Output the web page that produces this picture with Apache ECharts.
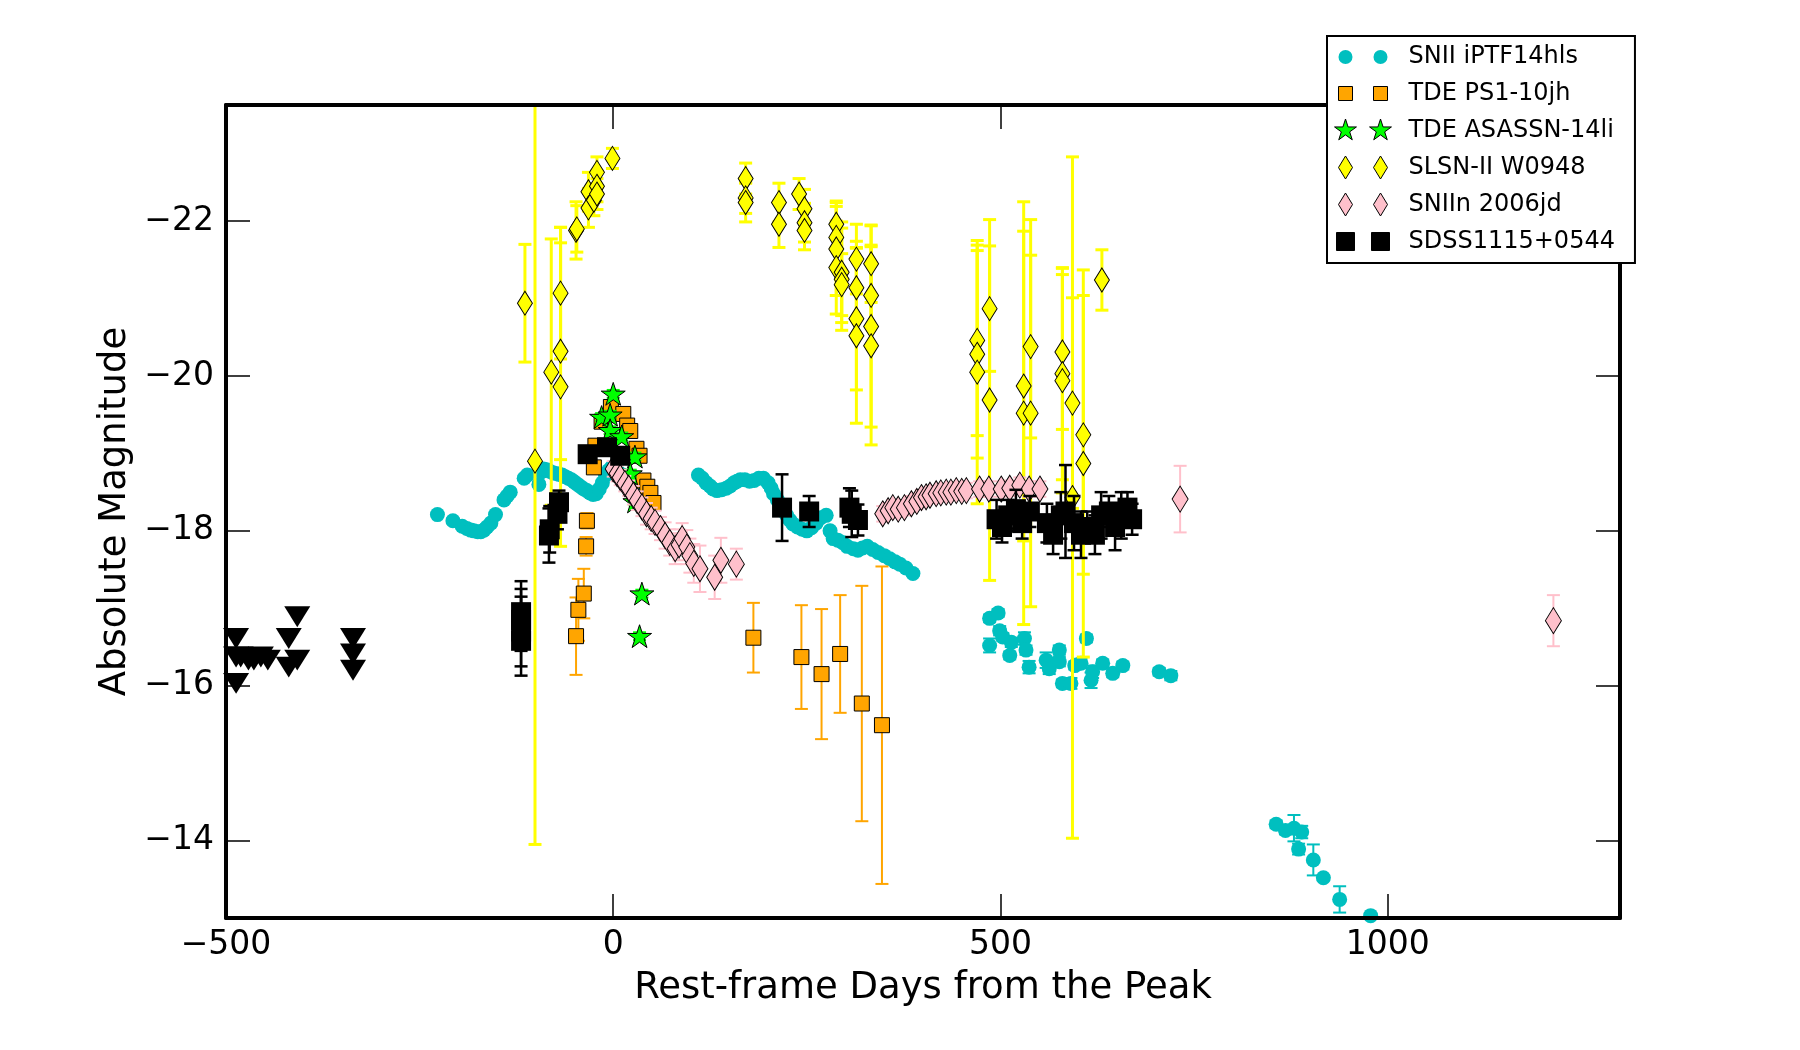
<!DOCTYPE html>
<html>
<head>
<meta charset="utf-8">
<title>Light curves</title>
<script src="https://cdn.jsdelivr.net/npm/echarts/dist/echarts.min.js"></script>
<style>
  html, body { margin: 0; padding: 0; background: #fff; }
  #chart { width: 1800px; height: 1050px; }
</style>
</head>
<body>
<div id="chart"></div>
<script>
// [rest-frame day, absolute magnitude, error]
const sniiPoints = [
  [-227, -18.21, 0.03], [-207, -18.13, 0.03], [-195, -18.06, 0.03], [-189, -18.03, 0.03],
  [-184, -18.01, 0.03], [-180, -18.00, 0.03], [-175, -17.99, 0.03], [-171, -17.99, 0.03],
  [-167, -18.01, 0.03], [-163, -18.05, 0.03], [-158, -18.10, 0.03], [-152, -18.21, 0.03],
  [-141, -18.40, 0.03], [-137, -18.45, 0.03], [-133, -18.50, 0.03], [-115, -18.68, 0.03],
  [-111, -18.72, 0.03], [-96, -18.60, 0.03], [-93, -18.76, 0.03], [-90, -18.80, 0.03],
  [-86, -18.79, 0.03], [-82, -18.77, 0.03], [-78, -18.75, 0.03], [-74, -18.74, 0.03],
  [-70, -18.73, 0.03], [-66, -18.72, 0.03], [-62, -18.70, 0.03], [-58, -18.68, 0.03],
  [-54, -18.66, 0.03], [-50, -18.63, 0.03], [-46, -18.60, 0.03], [-42, -18.57, 0.03],
  [-38, -18.54, 0.03], [-34, -18.52, 0.03], [-30, -18.49, 0.03], [-26, -18.47, 0.03],
  [-22, -18.48, 0.03], [-18, -18.54, 0.03], [-14, -18.62, 0.03], [-10, -18.72, 0.03],
  [-6, -18.78, 0.03], [-2, -18.82, 0.03], [5, -18.78, 0.03], [12, -18.72, 0.03],
  [18, -18.66, 0.03], [24, -18.62, 0.03], [30, -18.58, 0.03],
  [110, -18.72, 0.03], [115, -18.68, 0.03], [120, -18.62, 0.03], [125, -18.58, 0.03],
  [129, -18.54, 0.03], [134, -18.52, 0.03], [140, -18.53, 0.03], [146, -18.55, 0.03],
  [151, -18.58, 0.03], [156, -18.62, 0.03], [160, -18.64, 0.03], [164, -18.66, 0.03],
  [170, -18.66, 0.03], [176, -18.64, 0.03], [182, -18.65, 0.03], [188, -18.68, 0.03],
  [194, -18.68, 0.03], [200, -18.62, 0.03], [204, -18.55, 0.03], [207, -18.48, 0.03],
  [212, -18.40, 0.03], [218, -18.30, 0.03], [224, -18.20, 0.03], [228, -18.14, 0.03],
  [232, -18.09, 0.03], [238, -18.05, 0.03], [244, -18.02, 0.03], [250, -18.00, 0.03],
  [256, -18.04, 0.03], [262, -18.10, 0.03], [268, -18.17, 0.03], [275, -18.20, 0.03],
  [280, -18.00, 0.03], [284, -17.90, 0.03], [290, -17.88, 0.03], [296, -17.85, 0.03],
  [302, -17.80, 0.03], [310, -17.77, 0.03], [316, -17.75, 0.03], [322, -17.78, 0.03],
  [328, -17.80, 0.03], [335, -17.76, 0.03], [342, -17.72, 0.03], [350, -17.68, 0.03],
  [357, -17.64, 0.03], [364, -17.60, 0.03], [370, -17.57, 0.03], [378, -17.52, 0.03],
  [387, -17.45, 0.03],
  [486, -16.87, 0.05], [497, -16.94, 0.05], [499, -16.71, 0.06], [486, -16.52, 0.09],
  [503, -16.63, 0.05], [514, -16.56, 0.06], [531, -16.61, 0.08], [512, -16.39, 0.05],
  [533, -16.46, 0.06], [537, -16.24, 0.08], [559, -16.33, 0.10], [563, -16.22, 0.07],
  [576, -16.46, 0.06], [576, -16.31, 0.06], [580, -16.03, 0.05], [591, -16.03, 0.07],
  [596, -16.26, 0.05], [604, -16.29, 0.06], [611, -16.61, 0.05], [617, -16.07, 0.10],
  [619, -16.18, 0.08], [632, -16.29, 0.05], [645, -16.16, 0.05], [658, -16.26, 0.05],
  [705, -16.18, 0.05], [720, -16.13, 0.06],
  [856, -14.21, 0.05], [868, -14.13, 0.05], [879, -14.16, 0.17], [889, -14.11, 0.08],
  [885, -13.89, 0.07], [904, -13.75, 0.20], [917, -13.52, 0.03], [938, -13.24, 0.17],
  [978, -13.03, 0.02]
];

const ps1Points = [
  [-48, -16.64, 0.50], [-45, -16.98, 0.40], [-38, -17.19, 0.32], [-35, -17.80, 0.12],
  [-34, -18.13, 0.10], [-25, -18.82, 0.05], [-23, -19.10, 0.05], [-15, -19.41, 0.05],
  [-3, -19.60, 0.05], [13, -19.51, 0.05], [18, -19.36, 0.05], [22, -19.29, 0.05],
  [30, -19.06, 0.05], [34, -18.97, 0.05], [39, -18.65, 0.05], [44, -18.57, 0.05],
  [48, -18.49, 0.05], [52, -18.36, 0.05],
  [181, -16.62, 0.45], [243, -16.37, 0.67], [269, -16.15, 0.84], [293, -16.41, 0.76],
  [321, -15.77, 1.52], [347, -15.49, 2.05]
];

const asassnPoints = [
  [-15, -19.47, 0.05], [-4, -19.50, 0.05], [0, -19.77, 0.05], [-4, -19.30, 0.05],
  [11, -19.22, 0.05], [28, -18.96, 0.05], [22, -18.74, 0.05], [28, -18.38, 0.05],
  [37, -17.19, 0.05], [34, -16.64, 0.05]
];

const w0948Points = [
  [-114, -20.94, 0.76], [-101, -18.90, 4.95], [-80, -20.05, 1.72],
  [-68, -21.07, 0.85], [-68, -20.32, 1.40], [-68, -19.86, 2.06],
  [-48, -21.88, 0.37], [-47, -21.90, 0.30], [-32, -22.38, 0.25], [-32, -22.17, 0.25],
  [-25, -22.27, 0.20], [-21, -22.63, 0.20], [-21, -22.45, 0.20], [-21, -22.35, 0.20],
  [-1, -22.81, 0.13],
  [171, -22.55, 0.20], [171, -22.30, 0.20], [171, -22.24, 0.25],
  [214, -22.24, 0.25], [214, -21.96, 0.30],
  [240, -22.35, 0.20], [247, -22.16, 0.25], [247, -21.98, 0.25], [247, -21.88, 0.25],
  [288, -21.96, 0.30], [288, -21.79, 0.40], [288, -21.64, 0.60], [288, -21.40, 0.60],
  [295, -21.34, 0.65], [295, -21.25, 0.66], [295, -21.18, 0.40],
  [314, -21.51, 0.45], [314, -21.14, 0.60], [314, -20.74, 0.92], [314, -20.52, 1.13],
  [333, -21.45, 0.50], [333, -21.04, 0.65], [333, -20.64, 1.30], [333, -20.39, 1.28],
  [470, -20.46, 1.23], [470, -20.28, 1.34], [470, -20.05, 1.70],
  [486, -20.87, 0.81], [486, -19.69, 2.33],
  [530, -19.87, 2.00], [530, -19.52, 2.73],
  [539, -20.38, 1.18], [539, -19.52, 2.50],
  [580, -20.31, 1.00], [580, -20.03, 1.37], [580, -19.94, 1.45],
  [593, -19.65, 1.36], [593, -18.43, 4.40],
  [607, -19.24, 1.80], [607, -18.87, 2.50],
  [631, -21.24, 0.39]
];

const sn2006jdPoints = [
  [0, -18.80, 0.10], [5, -18.74, 0.10], [9, -18.69, 0.10], [15, -18.61, 0.10],
  [20, -18.55, 0.10], [26, -18.46, 0.12], [31, -18.39, 0.12], [37, -18.31, 0.12],
  [43, -18.22, 0.14], [49, -18.16, 0.14], [54, -18.11, 0.15], [61, -18.03, 0.15],
  [67, -17.94, 0.17], [73, -17.85, 0.17], [80, -17.77, 0.20], [85, -17.82, 0.20],
  [89, -17.90, 0.20], [95, -17.79, 0.22], [99, -17.68, 0.22], [104, -17.58, 0.25],
  [112, -17.51, 0.30], [131, -17.40, 0.28], [139, -17.62, 0.29], [159, -17.57, 0.20],
  [348, -18.22, 0.10], [355, -18.26, 0.10], [361, -18.30, 0.10], [368, -18.28, 0.10],
  [376, -18.30, 0.10], [385, -18.35, 0.10], [392, -18.38, 0.10], [398, -18.43, 0.10],
  [404, -18.44, 0.10], [409, -18.46, 0.10], [417, -18.48, 0.10], [423, -18.49, 0.10],
  [430, -18.50, 0.10], [436, -18.50, 0.10], [443, -18.52, 0.10], [450, -18.51, 0.10],
  [456, -18.52, 0.10], [473, -18.54, 0.10], [485, -18.54, 0.10], [501, -18.54, 0.10],
  [512, -18.55, 0.10], [525, -18.59, 0.10], [537, -18.54, 0.10], [551, -18.54, 0.10],
  [732, -18.41, 0.43], [1214, -16.84, 0.33]
];

const sdssPoints = [
  [-119, -16.95, 0.40], [-119, -16.85, 0.40], [-119, -16.70, 0.45], [-119, -16.58, 0.45],
  [-83, -17.94, 0.35], [-82, -18.02, 0.30], [-72, -18.22, 0.20], [-70, -18.37, 0.15],
  [-33, -18.99, 0.10], [-8, -19.08, 0.10], [9, -18.97, 0.10],
  [218, -18.30, 0.43], [253, -18.25, 0.20], [305, -18.30, 0.25], [308, -18.22, 0.30],
  [316, -18.14, 0.20],
  [495, -18.15, 0.25], [502, -18.05, 0.20], [510, -18.20, 0.20], [520, -18.28, 0.25],
  [528, -18.10, 0.20], [538, -18.25, 0.20],
  [560, -18.10, 0.25], [568, -17.95, 0.25], [578, -18.20, 0.30], [584, -18.25, 0.60],
  [595, -18.10, 0.35], [604, -17.95, 0.30], [612, -18.05, 0.20], [622, -17.95, 0.25],
  [630, -18.20, 0.30], [640, -18.25, 0.20], [648, -18.05, 0.30], [656, -18.20, 0.30],
  [664, -18.30, 0.20], [670, -18.15, 0.20]
];

// [day, magnitude] upper limits
const sdssLimits = [
  [-487, -16.61], [-487, -16.37], [-487, -16.03], [-481, -16.37], [-471, -16.33],
  [-464, -16.33], [-455, -16.37], [-446, -16.33], [-419, -16.61], [-419, -16.24],
  [-408, -16.89], [-408, -16.33], [-336, -16.61], [-336, -16.41], [-336, -16.20]
];

const xTicks = [-500, 0, 500, 1000];
const yTicks = [-22, -20, -18, -16, -14];

const FONT = 'DejaVu Sans';
const X_MIN = -500, X_MAX = 1300, Y_MIN = -23.5, Y_MAX = -13;

function fmtMinus(v) {
  return v < 0 ? '\u2212' + Math.abs(v) : String(v);
}

function starPath(cx, cy, r) {
  const pts = [];
  for (let i = 0; i < 10; i++) {
    const rr = i % 2 ? r * 0.382 : r;
    const a = -Math.PI / 2 + i * Math.PI / 5;
    pts.push((cx + rr * Math.cos(a)).toFixed(2) + ',' + (cy + rr * Math.sin(a)).toFixed(2));
  }
  return 'M' + pts.join(' L') + ' Z';
}

// legend icons: two markers in a fixed 70x26 frame
function circleAt(c) { return 'M' + (c - 7) + ',13 A7,7 0 1 0 ' + (c + 7) + ',13 A7,7 0 1 0 ' + (c - 7) + ',13 Z'; }
function squareAt(s) { return function (c) { return 'M' + (c - s / 2) + ',' + (13 - s / 2) + ' h' + s + ' v' + s + ' h' + (-s) + ' Z'; }; }
function diamondAt(c) { return 'M' + c + ',1.5 L' + (c + 7) + ',13 L' + c + ',24.5 L' + (c - 7) + ',13 Z'; }
function starAt(c) { return starPath(c, 13, 11.5); }
function legendIcon(shape) { return 'path://M0,0 M70,26 ' + shape(12) + ' ' + shape(47); }

function errorBars(name, points, color, width, z) {
  return {
    name: name, type: 'custom', z: z, clip: true, silent: true,
    data: points, encode: { x: 0, y: 1 },
    renderItem: function (params, api) {
      const x = api.value(0), y = api.value(1), e = api.value(2);
      const a = api.coord([x, y - e]), b = api.coord([x, y + e]);
      const cap = 6.5;
      const st = function () { return { stroke: color, lineWidth: width }; };
      return {
        type: 'group',
        children: [
          { type: 'line', shape: { x1: a[0], y1: a[1], x2: b[0], y2: b[1] }, style: st() },
          { type: 'line', shape: { x1: a[0] - cap, y1: a[1], x2: a[0] + cap, y2: a[1] }, style: st() },
          { type: 'line', shape: { x1: b[0] - cap, y1: b[1], x2: b[0] + cap, y2: b[1] }, style: st() }
        ]
      };
    }
  };
}

function markers(name, points, symbol, size, color, border, z) {
  return {
    name: name, type: 'scatter', z: z, symbol: symbol, symbolSize: size,
    symbolKeepAspect: symbol.indexOf('path://') === 0,
    data: points.map(function (p) { return [p[0], p[1]]; }),
    itemStyle: { color: color, borderColor: '#000', borderWidth: border, opacity: 1 },
    emphasis: { disabled: true }
  };
}

const CYAN = '#00BFBF', ORANGE = '#FFA500', GREEN = '#00FF00', YELLOW = '#FFFF00', PINK = '#FFC0CB', BLACK = '#000000';
const starSymbol = 'path://' + starPath(0, 0, 10);
const downTriangle = 'path://M0,0 L22,0 L11,20 Z';

const frameLine = { show: true, onZero: false, lineStyle: { color: '#000', width: 4 } };
const tickStyle = { show: true, inside: true, length: 24, lineStyle: { color: '#000', width: 1.5 } };
const labelStyle = { fontFamily: FONT, fontSize: 33, color: '#000' };
const nameStyle = { fontFamily: FONT, fontSize: 37, color: '#000' };

const chart = echarts.init(document.getElementById('chart'));
chart.setOption({
  animation: false,
  backgroundColor: '#fff',
  grid: { left: 226, right: 180, top: 105, bottom: 132, containLabel: false, outerBoundsMode: 'none' },
  legend: {
    orient: 'vertical', left: 1327, top: 36, z: 20,
    padding: [8, 20, 8, 6], itemWidth: 70, itemHeight: 26, itemGap: 10,
    backgroundColor: '#fff', borderColor: '#000', borderWidth: 2, borderRadius: 0,
    textStyle: { fontFamily: FONT, fontSize: 24, color: '#000', lineHeight: 26 },
    data: [
      { name: 'SNII iPTF14hls', icon: legendIcon(circleAt), itemStyle: { color: CYAN, borderWidth: 0 } },
      { name: 'TDE PS1-10jh', icon: legendIcon(squareAt(14)), itemStyle: { color: ORANGE, borderColor: '#000', borderWidth: 1 } },
      { name: 'TDE ASASSN-14li', icon: legendIcon(starAt), itemStyle: { color: GREEN, borderColor: '#000', borderWidth: 1 } },
      { name: 'SLSN-II W0948', icon: legendIcon(diamondAt), itemStyle: { color: YELLOW, borderColor: '#000', borderWidth: 1 } },
      { name: 'SNIIn 2006jd', icon: legendIcon(diamondAt), itemStyle: { color: PINK, borderColor: '#000', borderWidth: 1 } },
      { name: 'SDSS1115+0544', icon: legendIcon(squareAt(18)), itemStyle: { color: BLACK, borderColor: '#000', borderWidth: 1 } }
    ]
  },
  xAxis: [
    {
      type: 'value', min: X_MIN, max: X_MAX, position: 'bottom', z: 15,
      axisLine: frameLine,
      axisTick: Object.assign({ customValues: xTicks }, tickStyle),
      axisLabel: Object.assign({ customValues: xTicks, formatter: fmtMinus, margin: 11 }, labelStyle),
      splitLine: { show: false },
      name: 'Rest-frame Days from the Peak', nameLocation: 'middle', nameGap: 52, nameTextStyle: nameStyle
    },
    {
      type: 'value', min: X_MIN, max: X_MAX, position: 'top', z: 15,
      axisLine: frameLine,
      axisTick: Object.assign({ customValues: xTicks }, tickStyle),
      axisLabel: { show: false }, splitLine: { show: false }
    }
  ],
  yAxis: [
    {
      type: 'value', inverse: true, min: Y_MIN, max: Y_MAX, position: 'left', z: 15,
      axisLine: frameLine,
      axisTick: Object.assign({ customValues: yTicks }, tickStyle),
      axisLabel: Object.assign({ customValues: yTicks, formatter: fmtMinus, margin: 12 }, labelStyle),
      splitLine: { show: false },
      name: 'Absolute Magnitude', nameLocation: 'middle', nameGap: 86, nameTextStyle: nameStyle
    },
    {
      type: 'value', inverse: true, min: Y_MIN, max: Y_MAX, position: 'right', z: 15,
      axisLine: frameLine,
      axisTick: Object.assign({ customValues: yTicks }, tickStyle),
      axisLabel: { show: false }, splitLine: { show: false }
    }
  ],
  series: [
    errorBars('SNII iPTF14hls', sniiPoints, CYAN, 2, 2),
    markers('SNII iPTF14hls', sniiPoints, 'circle', 15, CYAN, 0, 3),
    errorBars('TDE PS1-10jh', ps1Points, ORANGE, 2, 4),
    markers('TDE PS1-10jh', ps1Points, 'rect', 15, ORANGE, 1, 5),
    errorBars('TDE ASASSN-14li', asassnPoints, GREEN, 2, 6),
    markers('TDE ASASSN-14li', asassnPoints, starSymbol, 24, GREEN, 1, 7),
    errorBars('SLSN-II W0948', w0948Points, YELLOW, 3, 8),
    markers('SLSN-II W0948', w0948Points, 'diamond', [15, 24], YELLOW, 1, 9),
    errorBars('SNIIn 2006jd', sn2006jdPoints, PINK, 2, 10),
    markers('SNIIn 2006jd', sn2006jdPoints, 'diamond', [16, 26], PINK, 1, 11),
    errorBars('SDSS1115+0544', sdssPoints, BLACK, 2.5, 12),
    markers('SDSS1115+0544', sdssPoints, 'rect', 20, BLACK, 0, 13),
    markers('SDSS1115+0544', sdssLimits, downTriangle, [26, 23], BLACK, 0, 13)
  ]
});
</script>
</body>
</html>
